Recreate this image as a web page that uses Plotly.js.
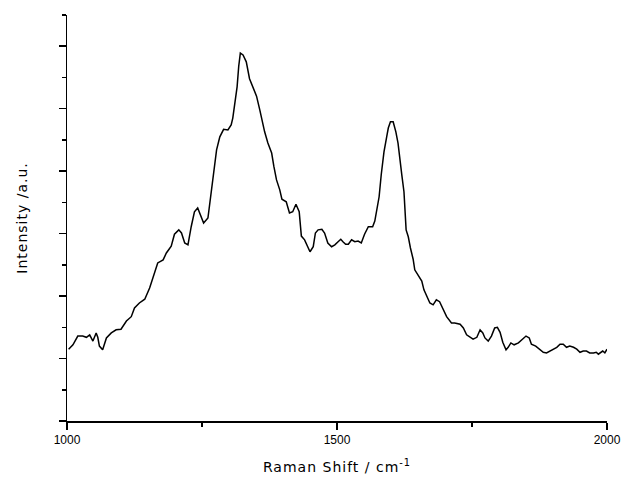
<!DOCTYPE html>
<html>
<head>
<meta charset="utf-8">
<script src="https://cdn.plot.ly/plotly-3.0.1.min.js"></script>
<style>
html,body{margin:0;padding:0;background:#fff;}
#chart{width:625px;height:487px;}
#chart .xtitle, #chart .ytitle{letter-spacing:1px;}
</style>
</head>
<body>
<div id="chart"></div>
<script>
// Raman shift (cm^-1)
const ramanShift = [1003,1011,1020,1029,1036,1042,1048,1054,1057,1060,1066,1073,1082,1091,1100,1110,1119,1125,1134,1144,
1153,1159,1168,1178,1184,1193,1199,1207,1212,1218,1224,1230,1236,1242,1249,1253,1261,1267,1272,1277,
1283,1290,1298,1304,1307,1312,1315,1318,1321,1326,1332,1338,1344,1351,1357,1361,1366,1372,1379,1383,
1388,1394,1398,1406,1412,1418,1424,1430,1434,1440,1446,1450,1456,1460,1465,1472,1477,1483,1490,1496,
1502,1507,1511,1516,1521,1527,1533,1539,1545,1551,1558,1566,1570,1574,1578,1582,1587,1592,1595,1599,
1604,1609,1613,1620,1624,1628,1632,1636,1641,1644,1650,1657,1661,1666,1672,1678,1684,1690,1697,1703,
1712,1718,1728,1734,1740,1746,1752,1759,1765,1770,1774,1780,1786,1792,1797,1802,1807,1813,1817,1822,
1828,1836,1842,1850,1856,1860,1868,1876,1882,1888,1894,1900,1907,1913,1919,1925,1931,1938,1944,1950,
1956,1962,1968,1975,1980,1984,1988,1992,1996,2000];
// Intensity (arbitrary units)
const intensity = [1.15,1.22,1.36,1.36,1.34,1.38,1.28,1.41,1.34,1.20,1.14,1.33,1.41,1.46,1.47,1.60,1.67,1.81,1.89,1.95,
2.13,2.29,2.53,2.58,2.69,2.80,2.99,3.06,3.01,2.85,2.82,3.11,3.35,3.41,3.27,3.17,3.25,3.67,3.99,4.34,
4.55,4.67,4.66,4.74,4.85,5.14,5.35,5.68,5.89,5.86,5.75,5.48,5.35,5.20,4.98,4.80,4.63,4.45,4.29,4.08,
3.86,3.70,3.55,3.51,3.33,3.35,3.47,3.35,2.96,2.90,2.79,2.71,2.79,3.01,3.06,3.07,3.01,2.85,2.79,2.82,
2.87,2.91,2.87,2.83,2.83,2.90,2.87,2.88,2.85,2.99,3.11,3.11,3.20,3.38,3.59,3.95,4.31,4.55,4.69,4.79,
4.79,4.63,4.45,3.94,3.67,3.06,2.95,2.77,2.59,2.42,2.34,2.24,2.10,1.99,1.89,1.86,1.94,1.91,1.79,1.67,
1.57,1.57,1.55,1.49,1.38,1.34,1.31,1.34,1.46,1.41,1.33,1.28,1.36,1.49,1.50,1.42,1.26,1.14,1.18,1.25,
1.22,1.25,1.30,1.36,1.33,1.23,1.20,1.15,1.10,1.09,1.12,1.15,1.18,1.23,1.23,1.18,1.20,1.18,1.15,1.10,
1.12,1.12,1.09,1.09,1.10,1.07,1.09,1.12,1.09,1.15];
const xTickVals = [1000,1500,2000];
const xTickText = ["1000","1500","2000"];

const trace = {
  x: ramanShift, y: intensity, type: 'scatter', mode: 'lines',
  line: {color: '#000', width: 1.5}, hoverinfo: 'none'
};
const tickFam = '"Liberation Sans", Arial, sans-serif';
const titleFam = '"DejaVu Sans", sans-serif';
const layout = {
  width: 625, height: 487,
  margin: {l: 67, r: 18, t: 15, b: 66},
  paper_bgcolor: '#fff', plot_bgcolor: '#fff',
  showlegend: false,
  font: {family: tickFam, color: '#000'},
  xaxis: {
    range: [1000, 2000], showgrid: false, zeroline: false,
    showline: true, linecolor: '#000', linewidth: 1.5,
    ticks: 'outside', ticklen: 7, tickwidth: 1.5, tickcolor: '#000',
    tickmode: 'array', tickvals: xTickVals, ticktext: xTickText,
    tickfont: {size: 12, family: tickFam, color: '#000'},
    minor: {ticks: 'outside', ticklen: 4, tickwidth: 1.5, tickcolor: '#000', dtick: 250, tick0: 1000, showgrid: false},
    title: {text: 'Raman Shift / cm<sup>-1</sup>', font: {size: 14, family: titleFam, color: '#000'}, standoff: 16},
    automargin: false
  },
  yaxis: {
    range: [0, 6.5], showgrid: false, zeroline: false,
    showline: true, linecolor: '#000', linewidth: 1.5,
    ticks: 'outside', ticklen: 7, tickwidth: 1.5, tickcolor: '#000',
    dtick: 1, tick0: 0, showticklabels: false,
    minor: {ticks: 'outside', ticklen: 4, tickwidth: 1.5, tickcolor: '#000', dtick: 0.5, tick0: 0, showgrid: false},
    title: {text: 'Intensity /a.u.', font: {size: 14, family: titleFam, color: '#000'}, standoff: 27},
    automargin: false
  }
};
Plotly.newPlot('chart', [trace], layout, {displayModeBar: false, staticPlot: true});
</script>
</body>
</html>
